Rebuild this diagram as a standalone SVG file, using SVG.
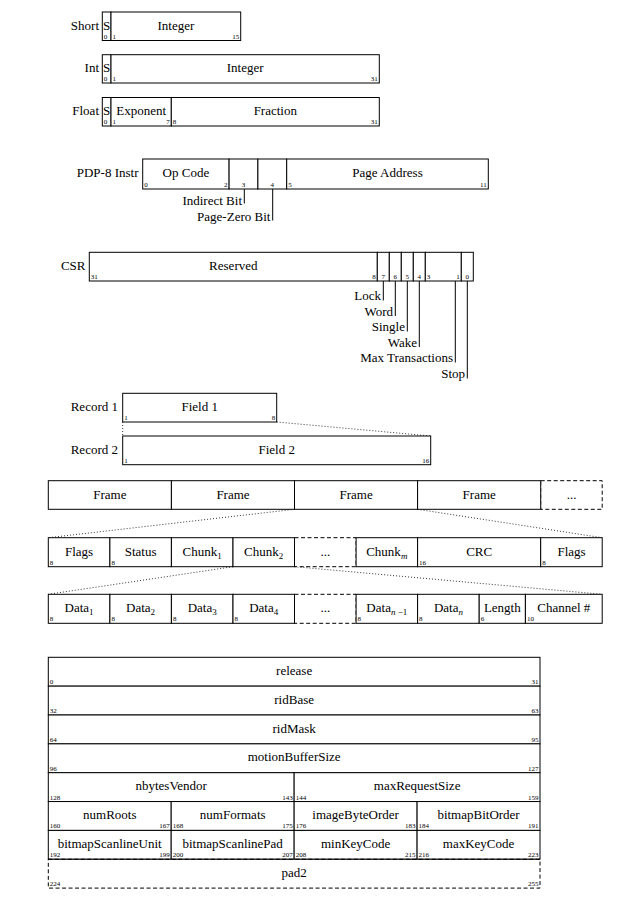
<svg xmlns="http://www.w3.org/2000/svg" width="637" height="912" viewBox="0 0 637 912">
<style>
.b{fill:#fff;stroke:#000;stroke-width:1}
.d{fill:#fff;stroke:#000;stroke-width:1;stroke-dasharray:4 2.5}
.t{font-family:"Liberation Serif","Times New Roman",serif;font-size:13px;fill:#000}
.n{font-family:"Liberation Serif","Times New Roman",serif;font-size:7px;fill:#000}
.m{text-anchor:middle}
.e{text-anchor:end}
.s{font-size:9px}
.i{font-style:italic}
.dot{fill:none;stroke:#000;stroke-width:0.8;stroke-dasharray:1 2}
.ld{fill:none;stroke:#000;stroke-width:1}
</style>
<rect width="637" height="912" fill="#fff"/>

<g id="connectors">
  <line class="ld" x1="244.3" y1="189" x2="244.3" y2="203.5"/>
  <line class="ld" x1="272.7" y1="189" x2="272.7" y2="220.5"/>
  <line class="ld" x1="383.3" y1="281" x2="383.3" y2="300.5"/>
  <line class="ld" x1="395.3" y1="281" x2="395.3" y2="316"/>
  <line class="ld" x1="407.3" y1="281" x2="407.3" y2="331.5"/>
  <line class="ld" x1="419.3" y1="281" x2="419.3" y2="347"/>
  <line class="ld" x1="455.3" y1="281" x2="455.3" y2="362.5"/>
  <line class="ld" x1="467.3" y1="281" x2="467.3" y2="378.5"/>
  <line class="dot" x1="276.7" y1="422" x2="430.7" y2="436"/>
  <line class="dot" x1="122.7" y1="422" x2="122.7" y2="436"/>
  <line class="dot" x1="294.5" y1="509.3" x2="48.3" y2="537.7"/>
  <line class="dot" x1="417.6" y1="509.3" x2="602.2" y2="537.7"/>
  <line class="dot" x1="233" y1="566.7" x2="48.3" y2="594.3"/>
  <line class="dot" x1="294.5" y1="566.7" x2="602.2" y2="594.3"/>
</g>

<g id="short">
  <text class="t e" x="99" y="29.5">Short</text>
  <rect class="b" x="102.3" y="12" width="8.7" height="28.5"/>
  <rect class="b" x="111" y="12" width="129.7" height="28.5"/>
  <text class="t m" x="106.7" y="29.5">S</text>
  <text class="t m" x="175.9" y="29.5">Integer</text>
  <text class="n" x="103.8" y="38.8">0</text>
  <text class="n" x="112.5" y="38.8">1</text>
  <text class="n e" x="239.2" y="38.8">15</text>
</g>

<g id="int">
  <text class="t e" x="99" y="72">Int</text>
  <rect class="b" x="102.3" y="54.7" width="8.7" height="28.3"/>
  <rect class="b" x="111" y="54.7" width="268.3" height="28.3"/>
  <text class="t m" x="106.7" y="72">S</text>
  <text class="t m" x="245.2" y="72">Integer</text>
  <text class="n" x="103.8" y="81.2">0</text>
  <text class="n" x="112.5" y="81.2">1</text>
  <text class="n e" x="377.8" y="81.2">31</text>
</g>

<g id="float">
  <text class="t e" x="99" y="115">Float</text>
  <rect class="b" x="102.3" y="97.5" width="8.7" height="28.5"/>
  <rect class="b" x="111" y="97.5" width="60.3" height="28.5"/>
  <rect class="b" x="171.3" y="97.5" width="208" height="28.5"/>
  <text class="t m" x="106.7" y="115">S</text>
  <text class="t m" x="141.2" y="115">Exponent</text>
  <text class="t m" x="275.3" y="115">Fraction</text>
  <text class="n" x="103.8" y="124.3">0</text>
  <text class="n" x="112.5" y="124.3">1</text>
  <text class="n e" x="169.8" y="124.3">7</text>
  <text class="n" x="172.8" y="124.3">8</text>
  <text class="n e" x="377.8" y="124.3">31</text>
</g>

<g id="pdp8">
  <text class="t e" x="138.5" y="176.5">PDP-8 Instr</text>
  <rect class="b" x="142.7" y="159" width="86.4" height="30"/>
  <rect class="b" x="229.1" y="159" width="28.8" height="30"/>
  <rect class="b" x="257.9" y="159" width="28.8" height="30"/>
  <rect class="b" x="286.7" y="159" width="201.6" height="30"/>
  <text class="t m" x="185.9" y="176.5">Op Code</text>
  <text class="t m" x="387.5" y="176.5">Page Address</text>
  <text class="n" x="144.2" y="186.5">0</text>
  <text class="n e" x="227.6" y="186.5">2</text>
  <text class="n m" x="243.5" y="186.5">3</text>
  <text class="n m" x="272.3" y="186.5">4</text>
  <text class="n" x="288.2" y="186.5">5</text>
  <text class="n e" x="486.8" y="186.5">11</text>
  <text class="t e" x="242" y="204.5">Indirect Bit</text>
  <text class="t e" x="270.4" y="221">Page-Zero Bit</text>
</g>

<g id="csr">
  <text class="t e" x="85.5" y="269.5">CSR</text>
  <rect class="b" x="89.3" y="252.3" width="288" height="28.7"/>
  <rect class="b" x="377.3" y="252.3" width="12" height="28.7"/>
  <rect class="b" x="389.3" y="252.3" width="12" height="28.7"/>
  <rect class="b" x="401.3" y="252.3" width="12" height="28.7"/>
  <rect class="b" x="413.3" y="252.3" width="12" height="28.7"/>
  <rect class="b" x="425.3" y="252.3" width="36" height="28.7"/>
  <rect class="b" x="461.3" y="252.3" width="12" height="28.7"/>
  <text class="t m" x="233.3" y="269.5">Reserved</text>
  <text class="n" x="90.8" y="279">31</text>
  <text class="n e" x="375.8" y="279">8</text>
  <text class="n m" x="383.3" y="279">7</text>
  <text class="n m" x="395.3" y="279">6</text>
  <text class="n m" x="407.3" y="279">5</text>
  <text class="n m" x="419.3" y="279">4</text>
  <text class="n" x="426.8" y="279">3</text>
  <text class="n e" x="459.8" y="279">1</text>
  <text class="n m" x="467.3" y="279">0</text>
  <text class="t e" x="381" y="300">Lock</text>
  <text class="t e" x="393" y="315.5">Word</text>
  <text class="t e" x="405" y="331">Single</text>
  <text class="t e" x="417" y="346.5">Wake</text>
  <text class="t e" x="453" y="362">Max Transactions</text>
  <text class="t e" x="465" y="378">Stop</text>
</g>

<g id="record1">
  <text class="t e" x="118" y="411">Record 1</text>
  <rect class="b" x="122.7" y="393.3" width="154" height="28.7"/>
  <text class="t m" x="199.7" y="411">Field 1</text>
  <text class="n" x="124.2" y="420.3">1</text>
  <text class="n e" x="275.2" y="420.3">8</text>
</g>

<g id="record2">
  <text class="t e" x="118" y="453.5">Record 2</text>
  <rect class="b" x="122.7" y="436" width="308" height="28.7"/>
  <text class="t m" x="276.7" y="453.5">Field 2</text>
  <text class="n" x="124.2" y="463">1</text>
  <text class="n e" x="429.2" y="463">16</text>
</g>

<g id="frames">
  <rect class="d" x="540.7" y="480.7" width="61.5" height="28.6"/>
  <rect class="b" x="48.3" y="480.7" width="123.1" height="28.6"/>
  <rect class="b" x="171.4" y="480.7" width="123.1" height="28.6"/>
  <rect class="b" x="294.5" y="480.7" width="123.1" height="28.6"/>
  <rect class="b" x="417.6" y="480.7" width="123.1" height="28.6"/>
  <text class="t m" x="109.9" y="498.5">Frame</text>
  <text class="t m" x="233" y="498.5">Frame</text>
  <text class="t m" x="356.1" y="498.5">Frame</text>
  <text class="t m" x="479.2" y="498.5">Frame</text>
  <text class="t m" x="571.5" y="498.5">...</text>
</g>

<g id="frame-fields">
  <rect class="d" x="294.5" y="537.7" width="61.6" height="29"/>
  <rect class="b" x="48.3" y="537.7" width="61.6" height="29"/>
  <rect class="b" x="109.9" y="537.7" width="61.5" height="29"/>
  <rect class="b" x="171.4" y="537.7" width="61.6" height="29"/>
  <rect class="b" x="233" y="537.7" width="61.5" height="29"/>
  <rect class="b" x="356.1" y="537.7" width="61.5" height="29"/>
  <rect class="b" x="417.6" y="537.7" width="123.1" height="29"/>
  <rect class="b" x="540.7" y="537.7" width="61.5" height="29"/>
  <text class="t m" x="79.1" y="555.5">Flags</text>
  <text class="t m" x="140.6" y="555.5">Status</text>
  <text class="t m" x="202.2" y="555.5">Chunk<tspan class="s" dy="3">1</tspan></text>
  <text class="t m" x="263.7" y="555.5">Chunk<tspan class="s" dy="3">2</tspan></text>
  <text class="t m" x="325.3" y="555.5">...</text>
  <text class="t m" x="386.8" y="555.5">Chunk<tspan class="s i" dy="3">m</tspan></text>
  <text class="t m" x="479.2" y="555.5">CRC</text>
  <text class="t m" x="571.5" y="555.5">Flags</text>
  <text class="n" x="49.8" y="564.5">8</text>
  <text class="n" x="111.4" y="564.5">8</text>
  <text class="n" x="419.1" y="564.5">16</text>
  <text class="n" x="542.2" y="564.5">8</text>
</g>

<g id="chunk-fields">
  <rect class="d" x="294.5" y="594.3" width="61.6" height="29"/>
  <rect class="b" x="48.3" y="594.3" width="61.6" height="29"/>
  <rect class="b" x="109.9" y="594.3" width="61.5" height="29"/>
  <rect class="b" x="171.4" y="594.3" width="61.6" height="29"/>
  <rect class="b" x="233" y="594.3" width="61.5" height="29"/>
  <rect class="b" x="356.1" y="594.3" width="61.5" height="29"/>
  <rect class="b" x="417.6" y="594.3" width="61.6" height="29"/>
  <rect class="b" x="479.2" y="594.3" width="46.2" height="29"/>
  <rect class="b" x="525.4" y="594.3" width="76.8" height="29"/>
  <text class="t m" x="79.1" y="612">Data<tspan class="s" dy="3">1</tspan></text>
  <text class="t m" x="140.6" y="612">Data<tspan class="s" dy="3">2</tspan></text>
  <text class="t m" x="202.2" y="612">Data<tspan class="s" dy="3">3</tspan></text>
  <text class="t m" x="263.7" y="612">Data<tspan class="s" dy="3">4</tspan></text>
  <text class="t m" x="325.3" y="612">...</text>
  <text class="t m" x="386.8" y="612">Data<tspan class="s" dy="3"><tspan class="i">n</tspan> −1</tspan></text>
  <text class="t m" x="448.4" y="612">Data<tspan class="s i" dy="3">n</tspan></text>
  <text class="t m" x="502.3" y="612">Length</text>
  <text class="t m" x="563.8" y="612">Channel #</text>
  <text class="n" x="49.8" y="621.3">8</text>
  <text class="n" x="111.4" y="621.3">8</text>
  <text class="n" x="172.9" y="621.3">8</text>
  <text class="n" x="234.5" y="621.3">8</text>
  <text class="n" x="357.6" y="621.3">8</text>
  <text class="n" x="419.1" y="621.3">8</text>
  <text class="n" x="480.7" y="621.3">6</text>
  <text class="n" x="526.9" y="621.3">10</text>
</g>

<g id="setup">
  <rect class="b" x="48.3" y="657.3" width="491.7" height="28.85"/>
  <text class="t m" x="294.15" y="674.8">release</text>
  <text class="n" x="49.8" y="684.1">0</text>
  <text class="n e" x="538.5" y="684.1">31</text>

  <rect class="b" x="48.3" y="686.15" width="491.7" height="28.85"/>
  <text class="t m" x="294.15" y="703.65">ridBase</text>
  <text class="n" x="49.8" y="712.95">32</text>
  <text class="n e" x="538.5" y="712.95">63</text>

  <rect class="b" x="48.3" y="715" width="491.7" height="28.85"/>
  <text class="t m" x="294.15" y="732.5">ridMask</text>
  <text class="n" x="49.8" y="741.8">64</text>
  <text class="n e" x="538.5" y="741.8">95</text>

  <rect class="b" x="48.3" y="743.85" width="491.7" height="28.85"/>
  <text class="t m" x="294.15" y="761.35">motionBufferSize</text>
  <text class="n" x="49.8" y="770.65">96</text>
  <text class="n e" x="538.5" y="770.65">127</text>

  <rect class="b" x="48.3" y="772.7" width="245.85" height="28.85"/>
  <rect class="b" x="294.15" y="772.7" width="245.85" height="28.85"/>
  <text class="t m" x="171.2" y="790.2">nbytesVendor</text>
  <text class="t m" x="417.1" y="790.2">maxRequestSize</text>
  <text class="n" x="49.8" y="799.5">128</text>
  <text class="n e" x="292.65" y="799.5">143</text>
  <text class="n" x="295.65" y="799.5">144</text>
  <text class="n e" x="538.5" y="799.5">159</text>

  <rect class="b" x="48.3" y="801.55" width="122.9" height="28.85"/>
  <rect class="b" x="171.2" y="801.55" width="122.95" height="28.85"/>
  <rect class="b" x="294.15" y="801.55" width="122.95" height="28.85"/>
  <rect class="b" x="417.1" y="801.55" width="122.9" height="28.85"/>
  <text class="t m" x="109.75" y="819.05">numRoots</text>
  <text class="t m" x="232.7" y="819.05">numFormats</text>
  <text class="t m" x="355.6" y="819.05">imageByteOrder</text>
  <text class="t m" x="478.55" y="819.05">bitmapBitOrder</text>
  <text class="n" x="49.8" y="828.35">160</text>
  <text class="n e" x="169.7" y="828.35">167</text>
  <text class="n" x="172.7" y="828.35">168</text>
  <text class="n e" x="292.65" y="828.35">175</text>
  <text class="n" x="295.65" y="828.35">176</text>
  <text class="n e" x="415.6" y="828.35">183</text>
  <text class="n" x="418.6" y="828.35">184</text>
  <text class="n e" x="538.5" y="828.35">191</text>

  <rect class="b" x="48.3" y="830.4" width="122.9" height="28.85"/>
  <rect class="b" x="171.2" y="830.4" width="122.95" height="28.85"/>
  <rect class="b" x="294.15" y="830.4" width="122.95" height="28.85"/>
  <rect class="b" x="417.1" y="830.4" width="122.9" height="28.85"/>
  <text class="t m" x="109.75" y="847.9">bitmapScanlineUnit</text>
  <text class="t m" x="232.7" y="847.9">bitmapScanlinePad</text>
  <text class="t m" x="355.6" y="847.9">minKeyCode</text>
  <text class="t m" x="478.55" y="847.9">maxKeyCode</text>
  <text class="n" x="49.8" y="857.2">192</text>
  <text class="n e" x="169.7" y="857.2">199</text>
  <text class="n" x="172.7" y="857.2">200</text>
  <text class="n e" x="292.65" y="857.2">207</text>
  <text class="n" x="295.65" y="857.2">208</text>
  <text class="n e" x="415.6" y="857.2">215</text>
  <text class="n" x="418.6" y="857.2">216</text>
  <text class="n e" x="538.5" y="857.2">223</text>

  <rect class="d" x="48.3" y="859.25" width="491.7" height="28.85"/>
  <line class="ld" x1="48.3" y1="859.25" x2="540" y2="859.25"/>
  <text class="t m" x="294.15" y="876.75">pad2</text>
  <text class="n" x="49.8" y="886.05">224</text>
  <text class="n e" x="538.5" y="886.05">255</text>
</g>
</svg>
